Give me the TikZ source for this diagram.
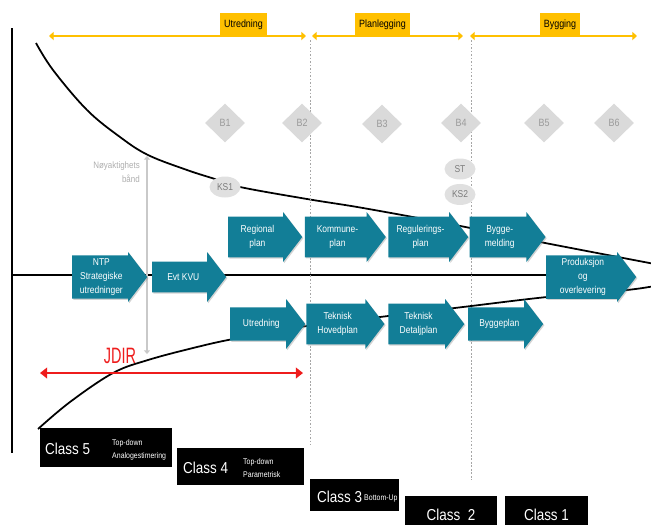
\documentclass[tikz,border=0pt]{standalone}
\usepackage{fontspec}
\newfontfamily\nfont[FakeStretch=0.85]{Liberation Sans}
\newfontfamily\cfont[FakeStretch=0.65]{Liberation Sans}
\usetikzlibrary{positioning,shapes.arrows,shapes.geometric,shadows,arrows.meta}
\definecolor{procblue}{HTML}{127E97}
\definecolor{phaseyellow}{HTML}{FFC000}
\definecolor{gatefill}{HTML}{DADADA}
\definecolor{gatetext}{HTML}{9A9A9A}
\definecolor{bandgrey}{HTML}{C9C9C9}
\definecolor{jdirred}{HTML}{EE1C1C}

\begin{document}
\begin{tikzpicture}
[x=0.03cm, y=-0.03cm, font=\nfont]
\tikzstyle{procarrow}=[single arrow, fill=procblue, text=white, align=center, inner sep=1pt, minimum width=1.5cm, single arrow head extend=0.09cm, single arrow tip angle=105, font=\nfont\fontsize{8.5}{12}\selectfont, drop shadow={shadow xshift=1pt, shadow yshift=-1pt, opacity=0.35}]
\tikzstyle{gatediamond}=[diamond, fill=gatefill, text=gatetext, inner sep=0pt, minimum width=1.2cm, minimum height=1.17cm, font=\nfont\fontsize{9}{10}\selectfont]
\tikzstyle{checkoval}=[ellipse, fill=gatefill!85, text=gatetext!80!black, inner sep=0pt, minimum width=0.93cm, minimum height=0.63cm, font=\nfont\fontsize{8.5}{10}\selectfont]
\tikzstyle{phasetag}=[fill=phaseyellow, inner sep=0pt, minimum height=0.7cm, anchor=south, font=\nfont\fontsize{9}{10}\selectfont]
\tikzstyle{phasearrow}=[phaseyellow, line width=2.3pt, {Triangle[length=4pt,width=7pt]}-{Triangle[length=4pt,width=7pt]}]
\tikzstyle{phaseline}=[gray!70, line width=0.4pt, dash pattern=on 1.5pt off 1.5pt]
\tikzstyle{classbox}=[fill=black, text=white, inner sep=0pt, font=\nfont\fontsize{13.5}{14}\selectfont]
\tikzstyle{classlbl}=[text=white, inner sep=0pt, anchor=west, font=\nfont\fontsize{13.5}{14}\selectfont]
\tikzstyle{classsub}=[text=white, inner sep=0pt, anchor=west, align=left, font=\nfont\fontsize{7}{11}\selectfont]

\useasboundingbox (0,0) rectangle (651,524);
\clip (0,0) rectangle (651,524);

% axes and accuracy funnel
\coordinate (axtop) at (12,28);
\coordinate (axbot) at (12,453);
\coordinate (axmid) at (12,275);
\coordinate (midend) at (560,275);
\draw[line width=1.5pt] (axtop) -- (axbot);
\draw[line width=1.5pt] (axmid) -- (midend);
\draw[line width=1.5pt] plot[smooth, tension=0.6] coordinates {(36,43) (53,70) (87,110) (120,137) (148,155) (187,170) (215,179) (240,187) (307,199) (363,208) (450,224) (540,242) (660,265)};
\draw[line width=1.5pt] plot[smooth, tension=0.6] coordinates {(38,429) (70,402) (113,373) (148,360) (193,348) (233,339) (300,327) (380,317) (463,307) (547,297) (627,290) (660,285)};

% phases
\coordinate (d1t) at (310,40);
\coordinate (d1b) at (310,445);
\coordinate (d2t) at (471,40);
\coordinate (d2b) at (471,480);
\draw[phaseline] (d1t) -- (d1b);
\draw[phaseline] (d2t) -- (d2b);

\coordinate (utrL) at (49,36);
\coordinate (utrR) at (306,36);
\coordinate (planL) at (312,36);
\coordinate (planR) at (463,36);
\coordinate (bygL) at (470,36);
\coordinate (bygR) at (637,36);
\draw[phasearrow] (utrL) -- (utrR);
\draw[phasearrow] (planL) -- (planR);
\draw[phasearrow] (bygL) -- (bygR);
\node[phasetag, minimum width=1.41cm]	(PU)	at (243.5,37) {Utredning};
\node[phasetag, minimum width=1.65cm]	(PP)	at (382.5,37) {Planlegging};
\node[phasetag, minimum width=1.2cm]	(PB)	at (560,37) {Bygging};

% accuracy band and JDIR
\coordinate (bandtop) at (147,156);
\coordinate (bandbot) at (147,354);
\draw[bandgrey, line width=1.8pt, {Triangle[length=3pt,width=5pt]}-{Triangle[length=3pt,width=5pt]}] (bandtop) -- (bandbot);
\node[text=gatetext!80, align=right, anchor=east, inner sep=0pt, font=\nfont\fontsize{8}{12}\selectfont] (bandlbl) at (140,172) {Nøyaktighets\\bånd};

\coordinate (jdirL) at (40,373);
\coordinate (jdirR) at (303,373);
\draw[jdirred, line width=2.4pt, {Triangle[length=6pt,width=9pt]}-{Triangle[length=6pt,width=9pt]}] (jdirL) -- (jdirR);
\node[text=jdirred, inner sep=0pt, font=\cfont\fontsize{19}{20}\selectfont] (JDIR) at (120,356) {JDIR};

% decision gates
\node[gatediamond]	(B1)	at (225,123) {B1};
\node[gatediamond]	(B2)	at (302,123) {B2};
\node[gatediamond]	(B3)	at (382,124) {B3};
\node[gatediamond]	(B4)	at (461,123) {B4};
\node[gatediamond]	(B5)	at (544,123) {B5};
\node[gatediamond]	(B6)	at (614,123) {B6};

\node[checkoval]	(KS1)	at (225,187) {KS1};
\node[checkoval]	(ST)	at (460,169) {ST};
\node[checkoval]	(KS2)	[below=0.12cm of ST] {KS2};

% process steps
\node[procarrow, minimum height=2.25cm]	(NTP)	at (72,277) [anchor=tail] {NTP\\Strategiske\\utredninger};
\node[procarrow, minimum height=2.22cm]	(KVU)	at (152,277) [anchor=tail] {Evt KVU};
\node[procarrow, minimum height=2.22cm]	(REG)	at (228,237) [anchor=tail] {Regional\\plan};
\node[procarrow, minimum height=2.43cm]	(KOM)	[right=0.06cm of REG] {Kommune-\\plan};
\node[procarrow, minimum height=2.4cm]	(REGU)	[right=0.06cm of KOM] {Regulerings-\\plan};
\node[procarrow, minimum height=2.28cm]	(BYM)	[right=0.02cm of REGU] {Bygge-\\melding};
\node[procarrow, minimum height=2.25cm]	(UTR)	at (230,324) [anchor=tail] {Utredning};
\node[procarrow, minimum height=2.34cm]	(THP)	[right=0.02cm of UTR] {Teknisk\\Hovedplan};
\node[procarrow, minimum height=2.28cm]	(TDP)	[right=0.1cm of THP] {Teknisk\\Detaljplan};
\node[procarrow, minimum height=2.25cm]	(BYP)	[right=0.1cm of TDP] {Byggeplan};
\node[procarrow, minimum height=2.7cm]	(PROD)	at (546,277) [anchor=tail] {Produksjon\\og\\overlevering};

% cost estimate classes
\node[classbox, minimum width=3.96cm, minimum height=1.17cm]	(C5)	at (106,447.5) {};
\node[classlbl]	(C5l)	at (45,449) {Class 5};
\node[classsub]	(C5s)	at (112,450) {Top-down\\Analogestimering};
\node[classbox, minimum width=3.81cm, minimum height=1.11cm]	(C4)	at (240.5,466.5) {};
\node[classlbl]	(C4l)	at (183,468) {Class 4};
\node[classsub]	(C4s)	at (243,468) {Top-down\\Parametrisk};
\node[classbox, minimum width=2.67cm, minimum height=0.96cm]	(C3)	at (354.5,495) {};
\node[classlbl]	(C3l)	at (317,497) {Class 3};
\node[classsub]	(C3s)	at (364,499) {Bottom-Up};
\node[classbox, minimum width=2.76cm, minimum height=1.14cm]	(C2)	at (451,515) {Class\ \ 2};
\node[classbox, minimum width=2.49cm, minimum height=1.14cm]	(C1)	at (546.5,515) {Class\ 1};
\end{tikzpicture}
\end{document}
